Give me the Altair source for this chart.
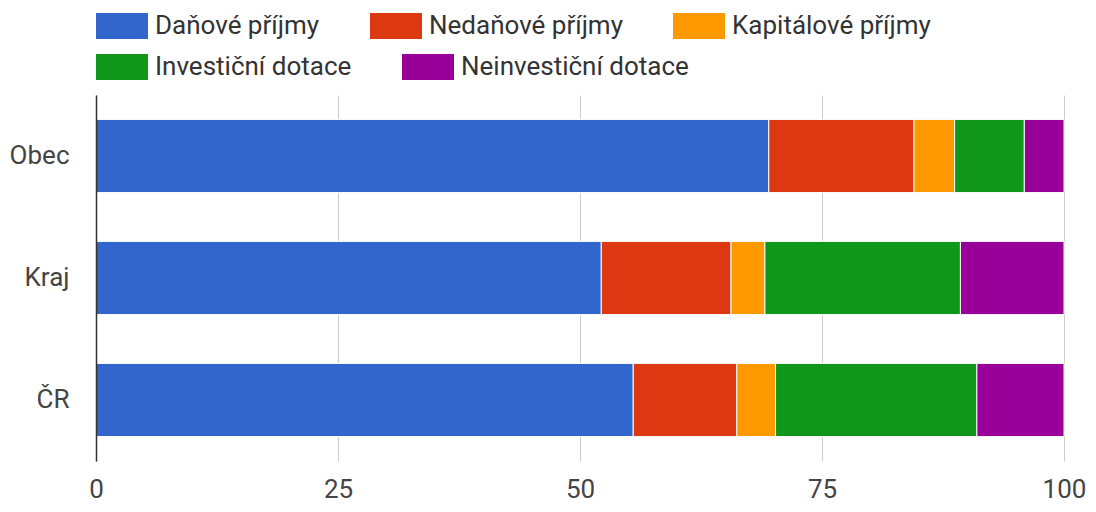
import altair as alt
import pandas as pd

regions = ["Obec", "Kraj", "ČR"]
categories = ["Daňové příjmy", "Nedaňové příjmy", "Kapitálové příjmy",
              "Investiční dotace", "Neinvestiční dotace"]
colors = ["#3366cc", "#dc3912", "#ff9900", "#109618", "#990099"]
obec = [69.5, 15.0, 4.2, 7.2, 4.1]
kraj = [52.2, 13.4, 3.5, 20.2, 10.7]
cr = [55.5, 10.7, 4.0, 20.8, 9.0]
x_ticks = [0, 25, 50, 75, 100]

rows = []
for region, vals in zip(regions, [obec, kraj, cr]):
    for i, (cat, v) in enumerate(zip(categories, vals)):
        rows.append({"region": region, "category": cat, "value": v, "idx": i})
df = pd.DataFrame(rows)

FONT = "Roboto"


def legend_row(values, y):
    return alt.Legend(title=None, orient="none", legendX=0, legendY=y,
                      direction="horizontal", values=values,
                      symbolType="M-1,-1L3,-1L3,1L-1,1Z", symbolSize=676,
                      symbolStrokeWidth=0, symbolOpacity=1,
                      labelOffset=33, labelFont=FONT, labelFontSize=26,
                      labelColor="#333333", labelLimit=500,
                      columnPadding=50)


x_enc = alt.X("value:Q", stack="zero",
              scale=alt.Scale(domain=[0, 100], nice=False),
              axis=alt.Axis(values=x_ticks, title=None, domain=False, ticks=False,
                            gridColor="#cccccc", gridWidth=1, labelFlush=False,
                            labelFont=FONT, labelFontSize=26, labelColor="#444444",
                            labelPadding=15))
y_enc = alt.Y("region:N", sort=regions,
              scale=alt.Scale(paddingInner=0.4, paddingOuter=0.2),
              axis=alt.Axis(title=None, ticks=False, domain=True, domainColor="#333333",
                            domainWidth=1.5, grid=False, zindex=1,
                            labelFont=FONT, labelFontSize=26, labelColor="#444444",
                            labelPadding=27))
order_enc = alt.Order("idx:Q", sort="ascending")

base = alt.Chart(df).mark_bar(stroke="white", strokeWidth=1)

layer1 = base.encode(
    x=x_enc, y=y_enc, order=order_enc,
    color=alt.Color("category:N", sort=categories,
                    scale=alt.Scale(domain=categories, range=colors),
                    legend=legend_row(categories[:3], -82)),
)
layer2 = base.encode(
    x=x_enc, y=y_enc, order=order_enc,
    color=alt.Color("category:N", sort=categories,
                    scale=alt.Scale(domain=categories, range=colors),
                    legend=legend_row(categories[3:], -41)),
)

chart = alt.layer(layer1, layer2).resolve_scale(color="independent").properties(
    width=968, height=366,
    padding={"left": 88, "top": 87, "right": 24, "bottom": 43},
    autosize=alt.AutoSizeParams(type="none"),
).configure_view(stroke=None)

chart.save("out.html", embed_options={"renderer": "svg", "actions": False})
